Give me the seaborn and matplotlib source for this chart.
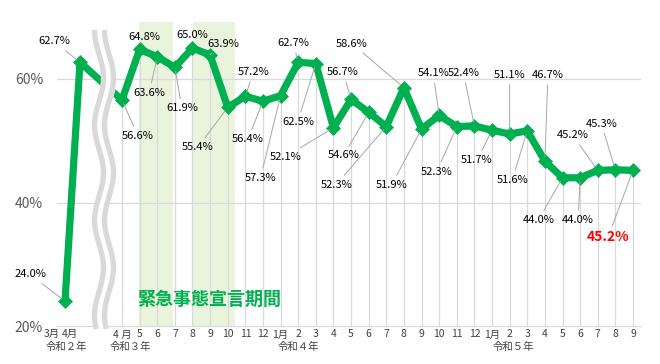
import numpy as np
import pandas as pd
import matplotlib
matplotlib.use("Agg")
import matplotlib.pyplot as plt
import seaborn as sns

# ---------------- data ----------------
r2_months = ["3月", "4月"]
r2_values = [24.0, 62.7]
main_months = ["4 月", "5", "6", "7", "8", "9", "10", "11", "12",
               "1月", "2", "3", "4", "5", "6", "7", "8", "9", "10", "11", "12",
               "1月", "2", "3", "4", "5", "6", "7", "8", "9"]
main_values = [56.6, 64.8, 63.6, 61.9, 65.0, 63.9, 55.4, 57.2, 56.4,
               57.3, 62.7, 62.5, 52.1, 56.7, 54.6, 52.3, 58.6, 51.9, 54.1, 52.3, 52.4,
               51.7, 51.1, 51.6, 46.7, 44.0, 44.0, 45.2, 45.3, 45.2]
era_labels = ["令和２年", "令和３年", "令和４年", "令和５年"]
emergency_label = "緊急事態宣言期間"
# emergency periods (in month index units from R3 April)
emergency_periods = [(0.98, 2.91), (4.05, 6.41)]

# ---------------- layout ----------------
W, H = 660, 364
AX_L, AX_R, AX_T, AX_B = 57, 641, 17.25, 326
X0_PX, STEP_PX = 122, 17.62          # px of R3 April, px per month
YMIN, YMAX = 20, 70
PX_PER_UNIT = (AX_B - AX_T) / (YMAX - YMIN)
R2_POS = [-3.235, -2.384]

def px2x(px):
    return (px - X0_PX) / STEP_PX

def py2y(py):
    return YMIN + (AX_B - py) / PX_PER_UNIT

def fig_xy(px, py):
    return px / W, 1 - py / H

# label offsets in pixels (dx right, dy down) relative to each point
r2_label_off = [(-35, -27), (-26, -21)]
main_label_off = [(16, 36), (5, -12), (-8, 36), (7, 41), (0, -13), (13, -11),
                  (-30, 40), (8, -24), (-15, 38), (-20, 82), (-5, -19), (-18, 58),
                  (-48, 29), (-8, -27), (-25, 43), (-50, 58), (-52, -44), (-30, 56),
                  (-6, -42), (-20, 45), (-11, -53), (-15, 30), (0, -59), (-15, 49),
                  (3, -86), (-24, 42), (-2, 42), (-25, -35), (-14, -46), (-25, 67)]
no_leader = {1, 4}

sns.set_theme(style="white")
plt.rcParams["font.family"] = ["Noto Sans CJK JP", "DejaVu Sans"]

fig = plt.figure(figsize=(W / 100, H / 100), dpi=100)
ax = fig.add_axes([AX_L / W, 1 - AX_B / H, (AX_R - AX_L) / W, (AX_B - AX_T) / H])
ax.set_xlim(px2x(AX_L), px2x(AX_R))
ax.set_ylim(YMIN, YMAX)

main_pos = list(range(len(main_values)))
df = pd.DataFrame({
    "pos": R2_POS + main_pos,
    "value": r2_values + main_values,
})

green = "#00B050"
grid_c = "#D9D9D9"

# emergency shading
for a, b in emergency_periods:
    ax.axvspan(a, b, ymin=0, ymax=(py2y(22) - YMIN) / (YMAX - YMIN),
               color="#EAF4DD", zorder=0, lw=0)

# gridlines
for g in [40, 60]:
    ax.axhline(g, color=grid_c, lw=0.9, zorder=1)

# drop lines
ax.vlines(main_pos, YMIN, main_values, color=grid_c, lw=0.9, zorder=1)

# main line
sns.lineplot(data=df, x="pos", y="value", ax=ax, color=green, lw=5.2,
             marker="D", markersize=7.5, markeredgecolor=green,
             markeredgewidth=0.5, sort=False, zorder=5)

# axis break (wavy double line)
ys_px = np.linspace(30, 329, 400)
xl_px = 99 + 4.5 * np.sin(2 * np.pi * (ys_px - 54) / 95)
xr_px = xl_px + 10
ys = py2y(ys_px)
ax.fill_betweenx(ys, px2x(xl_px - 2.5), px2x(xr_px + 2.5), color="white",
                 zorder=6, lw=0, clip_on=False)
for xs in (xl_px, xr_px):
    ax.plot(px2x(xs), ys, color=grid_c, lw=3.8, zorder=7,
            solid_capstyle="butt", clip_on=False)

# data labels
lab_kw = dict(fontsize=8, color="#000000", ha="center", va="center", zorder=9,
              textcoords="offset pixels")
arrow_kw = dict(arrowstyle="-", color="#A6A6A6", lw=0.7, shrinkA=1, shrinkB=3)
for x, v, (dx, dy) in zip(R2_POS, r2_values, r2_label_off):
    ax.annotate(f"{v:.1f}%", xy=(x, v), xytext=(dx, -dy),
                arrowprops=arrow_kw, **lab_kw)
for i, (x, v, (dx, dy)) in enumerate(zip(main_pos, main_values, main_label_off)):
    kw = dict(lab_kw)
    if i == len(main_values) - 1:
        kw.update(color="#FF0000", fontsize=10, fontweight="bold")
    ax.annotate(f"{v:.1f}%", xy=(x, v), xytext=(dx, -dy),
                arrowprops=None if i in no_leader else arrow_kw, **kw)

# axes styling
for s in ["top", "right", "left"]:
    ax.spines[s].set_visible(False)
ax.spines["bottom"].set_color(grid_c)
ax.spines["bottom"].set_linewidth(0.9)
ax.set_yticks([20, 40, 60])
ax.set_yticklabels(["20%", "40%", "60%"])
ax.tick_params(axis="y", length=0, pad=10, labelsize=10, labelcolor="#595959")
ax.set_xticks(main_pos)
ax.set_xticklabels(main_months)
ax.tick_params(axis="x", length=0, pad=2.5, labelsize=7.5, labelcolor="#404040")
ax.set_xlabel("")
ax.set_ylabel("")
ax.grid(False)

# R2 month labels
for m, px in zip(r2_months, [51.5, 70]):
    fig.text(*fig_xy(px, 334), m, fontsize=7.5, color="#404040",
             ha="center", va="center")

# era labels
for lab, px in zip(era_labels, [46, 110, 278, 493]):
    fig.text(*fig_xy(px, 347), lab, fontsize=7.5, color="#404040",
             ha="left", va="center")

# emergency label
fig.text(*fig_xy(209, 299), emergency_label, fontsize=13, fontweight="bold",
         color=green, ha="center", va="center")

fig.savefig("out.png", dpi=100, facecolor="white")
